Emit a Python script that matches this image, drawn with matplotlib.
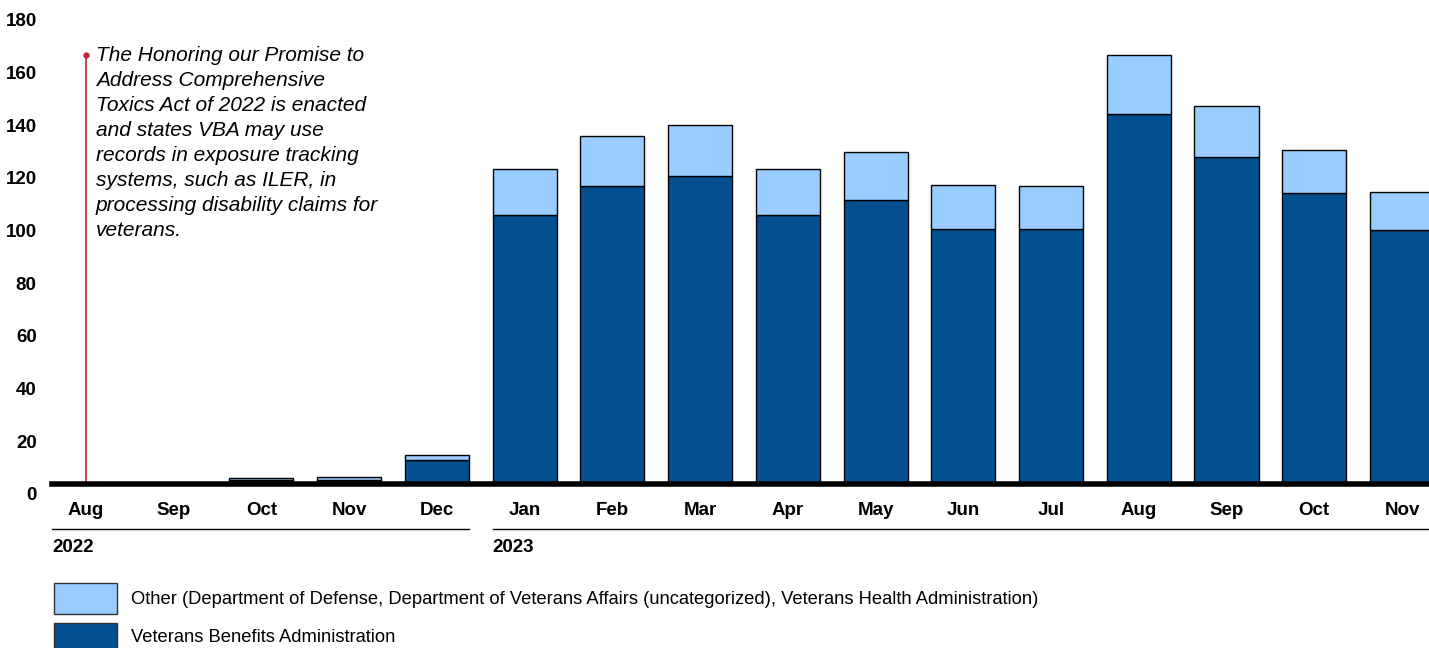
import matplotlib.pyplot as plt
import matplotlib.transforms as mtransforms
from matplotlib.patches import Rectangle

plt.rcParams['font.family'] = ['Liberation Sans', 'DejaVu Sans']

# monthly counts, Aug 2022 - Nov 2023
months = ['Aug', 'Sep', 'Oct', 'Nov', 'Dec',
          'Jan', 'Feb', 'Mar', 'Apr', 'May', 'Jun', 'Jul', 'Aug', 'Sep', 'Oct', 'Nov']
vba = [0.3, 0.3, 1.5, 1.5, 9, 102, 113, 117, 102, 108, 97, 97, 140.5, 124, 110.5, 96.5]
other = [0.2, 0.2, 0.8, 1.2, 2, 17.5, 19, 19.5, 17.5, 18, 16.5, 16, 22.5, 19.5, 16.5, 14.5]
years = ['2022', '2023']

dark = '#034f8f'
light = '#99ccff'
red = '#c41e3a'

W, H = 1429, 648
fig = plt.figure(figsize=(W / 100, H / 100), dpi=100)
ax = fig.add_axes([52 / W, (H - 484) / H, 1 - 52 / W, 474 / H])

x = list(range(len(months)))
ax.bar(x, vba, width=0.73, color=dark, edgecolor='black', linewidth=1)
ax.bar(x, other, width=0.73, bottom=vba, color=light, edgecolor='black', linewidth=1)

x0, x1 = -0.3875, 15.308
ax.set_xlim(x0, x1)
ax.set_ylim(0, 180)
ax.axhline(0, color='black', linewidth=4, clip_on=False, zorder=5)

for s in ax.spines.values():
    s.set_visible(False)

ax.set_yticks(range(0, 181, 20))
ax.tick_params(axis='y', length=0, pad=11, labelsize=13.5)
off = mtransforms.ScaledTranslation(0, -10 / 100, fig.dpi_scale_trans)
for lab in ax.get_yticklabels():
    lab.set_fontweight('bold')
    lab.set_transform(lab.get_transform() + off)

ax.set_xticks(x)
ax.set_xticklabels(months, fontweight='bold', fontsize=13.5)
ax.tick_params(axis='x', length=0, pad=13)

# year group lines
tr = mtransforms.blended_transform_factory(ax.transData, ax.transAxes)
ya = -45 / 474
ax.plot([x0, 4.365], [ya, ya], color='black', linewidth=1, transform=tr, clip_on=False)
ax.plot([4.635, x1], [ya, ya], color='black', linewidth=1, transform=tr, clip_on=False)
ax.text(x0, -63 / 474, years[0], transform=tr, fontsize=13.5, fontweight='bold', va='center', ha='left')
ax.text(4.635, -63 / 474, years[1], transform=tr, fontsize=13.5, fontweight='bold', va='center', ha='left')

# annotation line
ax.plot([0, 0], [0, 163], color=red, linewidth=1.2, zorder=4)
ax.plot([0], [163], marker='o', color=red, markersize=3.5, zorder=4)
ax.text(0.11, 166.5,
        'The Honoring our Promise to\nAddress Comprehensive\nToxics Act of 2022 is enacted\n'
        'and states VBA may use\nrecords in exposure tracking\nsystems, such as ILER, in\n'
        'processing disability claims for\nveterans.',
        fontsize=15, style='italic', va='top', ha='left', linespacing=1.4)

# legend
fig.patches.append(Rectangle((54 / W, (H - 614) / H), 63 / W, 31 / H, transform=fig.transFigure,
                             facecolor=light, edgecolor='#333333', linewidth=1))
fig.patches.append(Rectangle((54 / W, (H - 654) / H), 63 / W, 31 / H, transform=fig.transFigure,
                             facecolor=dark, edgecolor='#333333', linewidth=1))
fig.text(131 / W, (H - 599) / H,
         'Other (Department of Defense, Department of Veterans Affairs (uncategorized), Veterans Health Administration)',
         fontsize=13.25, va='center', ha='left')
fig.text(131 / W, (H - 638) / H, 'Veterans Benefits Administration', fontsize=13.25, va='center', ha='left')

fig.savefig('out.png', dpi=100)
